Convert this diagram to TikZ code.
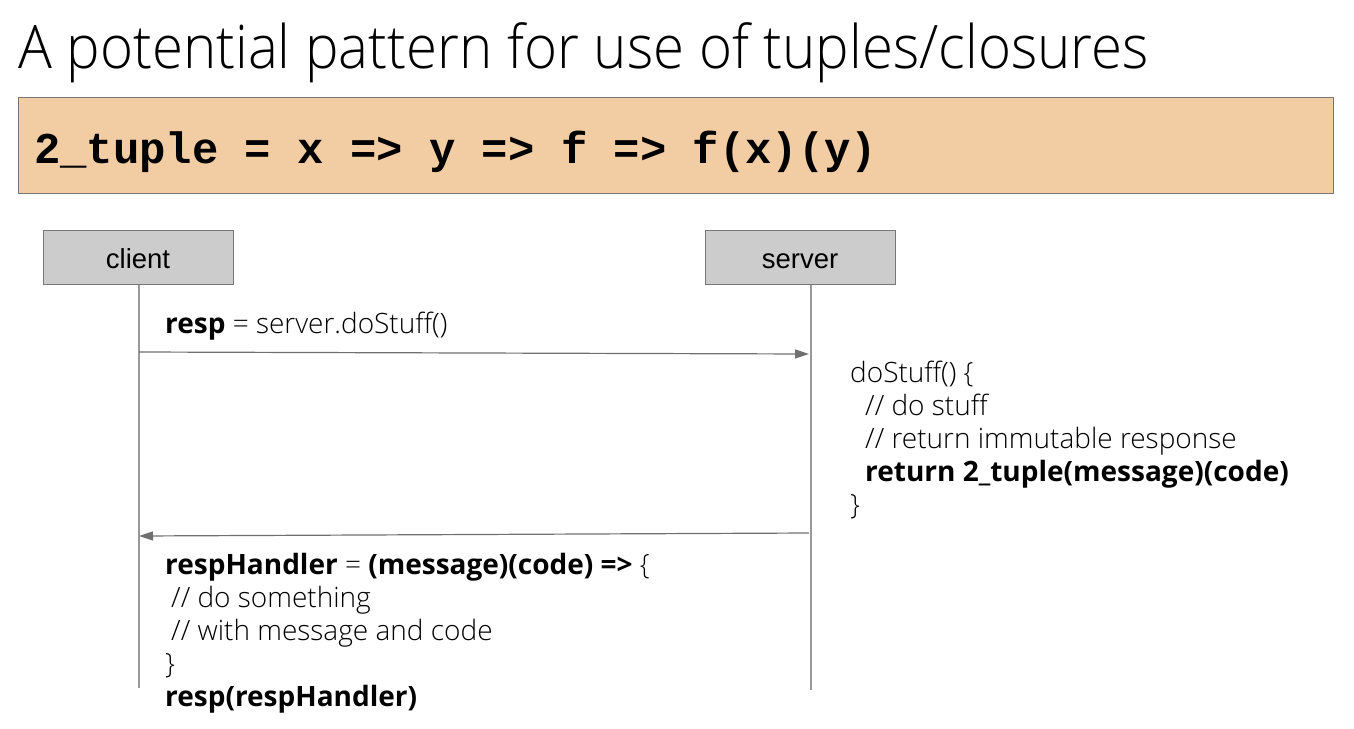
\documentclass[tikz,border=0pt]{standalone}
\usepackage{fontspec}
\setmainfont{Open Sans}[UprightFont=* Light, BoldFont=* Bold]
\newfontfamily\titlefont{Open Sans}[UprightFont=* Light, FakeStretch=0.94]
\newfontfamily\arialfont{Liberation Sans}
\newfontfamily\codefont{Liberation Mono}[UprightFont=* Bold]
\usetikzlibrary{arrows.meta}
\definecolor{boxorange}{HTML}{F2CCA2}
\definecolor{boxgray}{HTML}{CCCCCC}
\definecolor{edgegray}{HTML}{777777}
\definecolor{linegray}{HTML}{999999}
\definecolor{arrowgray}{HTML}{707070}
\tikzset{
  actor/.style={draw=edgegray, fill=boxgray, line width=1pt, minimum width=190pt, minimum height=54pt, inner sep=0pt, text height=22pt, text depth=0pt, font=\arialfont\fontsize{27.5}{27.5}\selectfont},
  life/.style={draw=linegray, line width=1.2pt},
  msg/.style={draw=arrowgray, line width=1.2pt, -{Triangle[length=14pt,width=9pt]}},
  txt/.style={anchor=base west, inner sep=0pt, font=\fontsize{28}{33}\selectfont, align=left}
}
\begin{document}
\begin{tikzpicture}[x=1pt,y=-1pt]
\useasboundingbox (0,0) rectangle (1354,728);
\node[anchor=base west, inner sep=0pt, font=\titlefont\fontsize{60}{60}\selectfont] (title) at (18,68) {A potential pattern for use of tuples/closures};
\node[draw=edgegray, fill=boxorange, line width=1pt, minimum width=1315pt, minimum height=96pt, inner sep=0pt, anchor=north west] (band) at (18,97) {};
\node[anchor=base west, inner sep=0pt, font=\codefont\fontsize{43.9}{44}\selectfont] (code) at (34,163) {2\_tuple = x => y => f => f(x)(y)};
\node[actor] (client) at (138,257) {client};
\node[actor] (server) at (800,257) {server};
\coordinate (cend) at (139,688);
\coordinate (send) at (811,690);
\draw[life] (client.south -| cend) -- (cend);
\draw[life] (server.south -| send) -- (send);
\coordinate (a1s) at (139,352);
\coordinate (a1e) at (809,354);
\coordinate (a2s) at (809,533);
\coordinate (a2e) at (139,536);
\draw[msg] (a1s) -- (a1e);
\draw[msg] (a2s) -- (a2e);
\node[txt] (req) at (165,333) {\textbf{resp} = server.doStuff()};
\node[txt] (srv) at (850,514) {doStuff() \{\\
\hspace*{15pt}// do stuff\\
\hspace*{15pt}// return immutable response\\
\hspace*{15pt}\textbf{return 2\_tuple(message)(code)}\\
\}};
\node[txt] (cli) at (165,706) {\textbf{respHandler} = \textbf{(message)(code) =>} \{\\
\hspace*{6pt}// do something\\
\hspace*{6pt}// with message and code\\
\}\\
\textbf{resp(respHandler)}};
\end{tikzpicture}
\end{document}
